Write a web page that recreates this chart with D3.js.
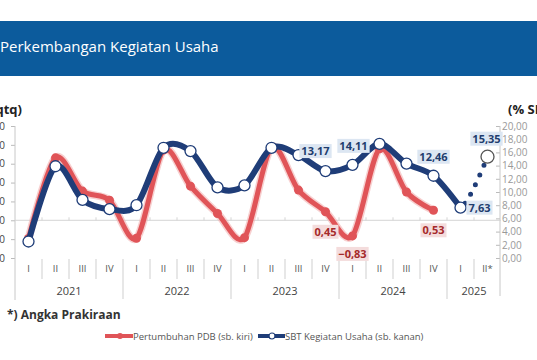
<!DOCTYPE html>
<html>
<head>
<meta charset="utf-8">
<script src="https://cdn.jsdelivr.net/npm/d3@7"></script>
<style>
  body { margin: 0; background: #fff; }
  svg { display: block; font-family: "Open Sans", "Noto Sans", sans-serif; }
</style>
</head>
<body>
<script>
// data
var years = ["2021", "2022", "2023", "2024", "2025"];
var quarters = ["I","II","III","IV","I","II","III","IV","I","II","III","IV","I","II","III","IV","I","II*"];
var pdb = [-0.96, 3.31, 1.55, 1.06, -0.95, 3.72, 1.81, 0.36, -0.92, 3.86, 1.60, 0.45, -0.83, 3.79, 1.50, 0.53];
var sbt = [2.5, 13.9, 8.8, 7.4, 8.0, 16.7, 16.2, 10.7, 11.0, 16.7, 15.6, 13.17, 14.11, 17.3, 14.3, 12.46, 7.63, 15.35];
var leftTicks = [-2, -1, 0, 1, 2, 3, 4, 5];
var rightTicks = [0, 2, 4, 6, 8, 10, 12, 14, 16, 18, 20];

// which points get a value box (index + offset of box centre)
var sbtLabels = [{i:11, dx:-10, dy:-20}, {i:12, dx:1, dy:-19}, {i:15, dx:0, dy:-19}, {i:16, dx:19, dy:0}, {i:17, dx:-1, dy:-18}];
var pdbLabels = [{i:11, dx:0, dy:20}, {i:12, dx:0, dy:18}, {i:15, dx:0, dy:20}];

var W = 537, H = 360;
var plotTop = 126, plotBottom = 258, plotLeft = 15, plotRight = 501;
var red = "#e05458", navy = "#1f3d78", navyDark = "#2c3d62";

var svg = d3.select("body").append("svg").attr("width", W).attr("height", H);

// header band
svg.append("rect").attr("x", 0).attr("y", 21).attr("width", W).attr("height", 55).attr("fill", "#0c5b9c");
svg.append("text").attr("x", 0).attr("y", 52).attr("fill", "#fff")
  .attr("font-size", "15px").text("Perkembangan Kegiatan Usaha");

var fmt = function(v){ return d3.format(".2f")(v).replace(".", ","); };

var x = d3.scaleBand().domain(d3.range(quarters.length)).range([plotLeft, plotRight]).paddingInner(0);
var cx = function(i){ return x(i) + x.bandwidth() / 2; };
var yL = d3.scaleLinear().domain([-2, 5]).range([plotBottom, plotTop]);
var yR = d3.scaleLinear().domain([0, 20]).range([plotBottom, plotTop]);

// axis titles
svg.append("text").attr("x", 22).attr("y", 114).attr("text-anchor", "end")
  .attr("font-size", "13px").attr("font-weight", "bold").attr("fill", "#222").text("(% qtq)");
svg.append("text").attr("x", 508).attr("y", 114)
  .attr("font-size", "13px").attr("font-weight", "bold").attr("fill", "#222").text("(% SBT)");

// left axis
var gL = svg.append("g").attr("transform", "translate(" + plotLeft + ",0)")
  .call(d3.axisLeft(yL).tickValues(leftTicks).tickSize(4).tickFormat(fmt));
gL.select(".domain").remove();
gL.selectAll(".tick line").attr("stroke", "#bbb");
gL.selectAll(".tick text").attr("font-size", "10px").attr("fill", "#444").attr("x", -10).attr("font-family", "Open Sans");

// right axis
var gR = svg.append("g").attr("transform", "translate(" + (plotRight - 1) + ",0)")
  .call(d3.axisRight(yR).tickValues(rightTicks).tickSize(-4).tickFormat(fmt));
gR.select(".domain").remove();
gR.selectAll(".tick line").attr("stroke", "#bbb");
gR.selectAll(".tick text").attr("font-size", "10px").attr("fill", "#999").attr("x", 2).attr("font-family", "Open Sans");

// vertical axis lines running down into the category area
svg.append("line").attr("x1", plotLeft).attr("x2", plotLeft).attr("y1", plotTop).attr("y2", 300).attr("stroke", "#c8c8c8");
svg.append("line").attr("x1", plotRight - 1).attr("x2", plotRight - 1).attr("y1", plotTop).attr("y2", 296).attr("stroke", "#c8c8c8");

// zero line
svg.append("line").attr("x1", plotLeft).attr("x2", plotRight).attr("y1", yL(0)).attr("y2", yL(0)).attr("stroke", "#d4d4d4");
svg.append("g").selectAll("line").data(d3.range(1, quarters.length)).enter().append("line")
  .attr("x1", function(i){ return x(i); }).attr("x2", function(i){ return x(i); })
  .attr("y1", yL(0)).attr("y2", yL(0) - 3).attr("stroke", "#d4d4d4");

// category labels
svg.append("g").selectAll("text").data(quarters).enter().append("text")
  .attr("x", function(d, i){ return cx(i); }).attr("y", 272).attr("text-anchor", "middle")
  .attr("font-size", "9.5px").attr("fill", "#555").text(function(d){ return d; });
svg.append("g").selectAll("line").data(d3.range(1, quarters.length)).enter().append("line")
  .attr("x1", function(i){ return x(i); }).attr("x2", function(i){ return x(i); })
  .attr("y1", 259).attr("y2", function(i){ return i % 4 == 0 ? 299 : 279; })
  .attr("stroke", "#cfcfcf");
svg.append("g").selectAll("text").data(years).enter().append("text")
  .attr("x", function(d, k){
    var a = k * 4, b = Math.min(k * 4 + 3, quarters.length - 1);
    return (x(a) + x(b) + x.bandwidth()) / 2; })
  .attr("y", 295).attr("text-anchor", "middle")
  .attr("font-size", "11px").attr("fill", "#444").text(function(d){ return d; });

// lines
var curve = d3.curveCardinal.tension(0.1);
var lineL = d3.line().x(function(d, i){ return cx(i); }).y(function(d){ return yL(d); }).curve(curve);
var lineR = d3.line().x(function(d){ return cx(d[0]); }).y(function(d){ return yR(d[1]); }).curve(curve);

svg.append("path").attr("d", lineL(pdb)).attr("fill", "none").attr("stroke", "#f2b0b0")
  .attr("stroke-width", 8).attr("stroke-linejoin", "round").attr("opacity", 0.6);
svg.append("path").attr("d", lineL(pdb)).attr("fill", "none").attr("stroke", red)
  .attr("stroke-width", 5).attr("stroke-linejoin", "round").attr("stroke-linecap", "round");
svg.append("g").selectAll("circle").data(pdb).enter().append("circle")
  .attr("cx", function(d, i){ return cx(i); }).attr("cy", function(d){ return yL(d); })
  .attr("r", 4.5).attr("fill", red);

var sbtPts = sbt.map(function(v, i){ return [i, v]; });
svg.append("path").attr("d", lineR(sbtPts.slice(0, 17))).attr("fill", "none").attr("stroke", navy)
  .attr("stroke-width", 6).attr("stroke-linejoin", "round");
// later part of the series looks a little greyer in the original
svg.append("path").attr("d", lineR(sbtPts.slice(13, 17)).replace(/^M[^C]*C/, "M" + cx(13) + "," + yR(sbt[13]) + "C"))
  .attr("fill", "none").attr("stroke", navyDark).attr("stroke-width", 6).attr("stroke-linejoin", "round")
  .attr("opacity", 0);

// forecast segment: dotted, same spline as the last part of the curve
var tail = svg.append("path").attr("d", lineR(sbtPts.slice(15))).attr("fill", "none");
var lead = svg.append("path").attr("d", lineR(sbtPts.slice(15, 17))).attr("fill", "none");
var skip = lead.node().getTotalLength();
lead.remove();
var dash = [0, skip + 8];
for (var k = 0; k < 12; k++) dash.push(0, 10.5);
tail.attr("stroke", navy).attr("stroke-width", 5).attr("stroke-linecap", "round")
  .attr("stroke-dasharray", dash.join(","));

svg.append("g").selectAll("circle").data(sbtPts).enter().append("circle")
  .attr("cx", function(d){ return cx(d[0]); }).attr("cy", function(d){ return yR(d[1]); })
  .attr("r", function(d){ return d[0] == 17 ? 6.5 : 5.5; }).attr("fill", "#fff")
  .attr("stroke", function(d){ return d[0] == 17 ? "#555" : navy; }).attr("stroke-width", 1.3);

// value boxes
function addBox(px, py, txt, bg, fg) {
  var g = svg.append("g");
  var t = g.append("text").attr("x", px).attr("y", py + 4).attr("text-anchor", "middle")
    .attr("font-size", "11px").attr("font-weight", "bold").attr("fill", fg).text(txt);
  var bb = t.node().getBBox();
  g.insert("rect", "text").attr("x", bb.x - 2).attr("y", py - 7).attr("width", bb.width + 4).attr("height", 14).attr("fill", bg);
}
sbtLabels.forEach(function(l){ addBox(cx(l.i) + l.dx, yR(sbt[l.i]) + l.dy, fmt(sbt[l.i]), "#dce6f2", "#1f3d6e"); });
pdbLabels.forEach(function(l){ addBox(cx(l.i) + l.dx, yL(pdb[l.i]) + l.dy, fmt(pdb[l.i]), "#f4dcdc", "#a52a2a"); });

// footnote
svg.append("text").attr("x", 7).attr("y", 319).attr("font-size", "12px").attr("font-weight", "bold")
  .attr("fill", "#333").text("*) Angka Prakiraan");

// legend
var lg = svg.append("g").attr("transform", "translate(0,336)");
lg.append("line").attr("x1", 105).attr("x2", 133).attr("stroke", red).attr("stroke-width", 4);
lg.append("circle").attr("cx", 120).attr("r", 3).attr("fill", red);
lg.append("text").attr("x", 133).attr("y", 3.5).attr("font-size", "9.5px").attr("fill", "#555").text("Pertumbuhan PDB (sb. kiri)");
lg.append("line").attr("x1", 258).attr("x2", 285).attr("stroke", navy).attr("stroke-width", 4);
lg.append("circle").attr("cx", 272).attr("r", 3).attr("fill", "#fff").attr("stroke", navy).attr("stroke-width", 1.2);
lg.append("text").attr("x", 285).attr("y", 3.5).attr("font-size", "9.5px").attr("fill", "#555").text("SBT Kegiatan Usaha (sb. kanan)");
</script>
</body>
</html>
